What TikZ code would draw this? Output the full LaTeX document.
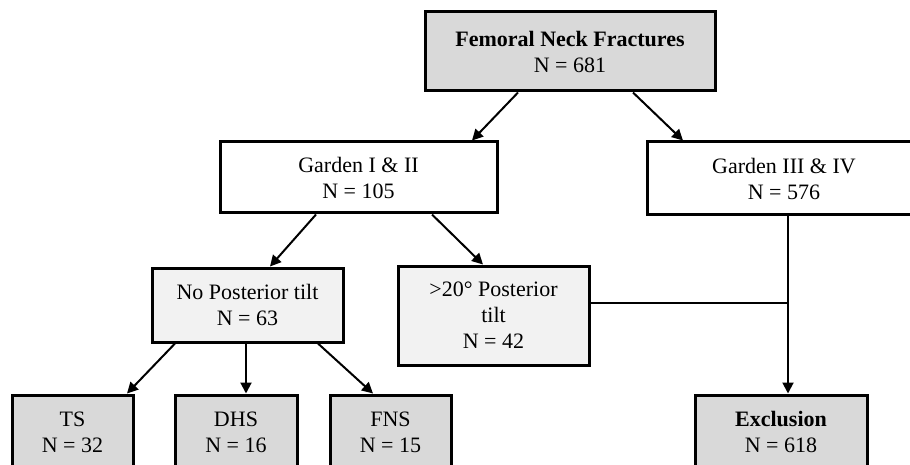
\documentclass[tikz,border=0pt]{standalone}
\usepackage{fontspec}
\setmainfont{Liberation Serif}
\usetikzlibrary{arrows.meta,calc}
\definecolor{dk}{HTML}{D9D9D9}
\definecolor{lt}{HTML}{F2F2F2}
\begin{document}
\begin{tikzpicture}[x=1pt,y=-1pt,
  box/.style={draw=black, line width=3pt, align=center, inner sep=0pt,
    font=\fontsize{22}{26}\selectfont},
  arr/.style={line width=2pt, -{Triangle[length=11pt,width=11pt]}},
  ln/.style={line width=2pt}]
\useasboundingbox (0,0) rectangle (910,465);
\clip (0,0) rectangle (910,465);
\node[box, fill=dk, minimum width=290pt, minimum height=79pt] (top) at (570,51.5)
  {\textbf{Femoral Neck Fractures}\\N = 681};
\node[box, fill=white, minimum width=277pt, minimum height=71pt] (g12) at (358.5,177.5)
  {Garden I \& II\\N = 105};
\node[box, fill=white, minimum width=274pt, minimum height=73pt] (g34) at (784,178.5)
  {Garden III \& IV\\N = 576};
\node[box, fill=lt, minimum width=191pt, minimum height=74pt] (np) at (247.5,305)
  {No Posterior tilt\\N = 63};
\node[box, fill=lt, minimum width=191pt, minimum height=99pt] (pt) at (493.5,315.5)
  {>20° Posterior\\tilt\\N = 42};
\node[box, fill=dk, minimum width=121pt, minimum height=74pt] (ts) at (72.5,432)
  {TS\\N = 32};
\node[box, fill=dk, minimum width=122pt, minimum height=74pt] (dhs) at (236,432)
  {DHS\\N = 16};
\node[box, fill=dk, minimum width=121pt, minimum height=74pt] (fns) at (390.5,432)
  {FNS\\N = 15};
\node[box, fill=dk, minimum width=172pt, minimum height=74pt] (exc) at (781,432)
  {\textbf{Exclusion}\\N = 618};
\coordinate (join) at (788,303);
\draw[arr] ([xshift=-52pt]top.south) -- ([xshift=113.5pt]g12.north);
\draw[arr] ([xshift=63pt]top.south) -- ([xshift=-101pt]g34.north);
\draw[arr] ([xshift=-42.5pt]g12.south) -- ([xshift=22.5pt]np.north);
\draw[arr] ([xshift=73.5pt]g12.south) -- ([xshift=-10.5pt]pt.north);
\draw[arr] ([xshift=-72.5pt]np.south) -- ([xshift=54.5pt]ts.north);
\draw[arr] ([xshift=-1.5pt]np.south) -- ([xshift=10pt]dhs.north);
\draw[arr] ([xshift=70.5pt]np.south) -- ([xshift=-17.5pt]fns.north);
\draw[arr] ([xshift=4pt]g34.south) -- ([xshift=7pt]exc.north);
\draw[ln] ([yshift=12.5pt]pt.east) -- (join);
\end{tikzpicture}
\end{document}
